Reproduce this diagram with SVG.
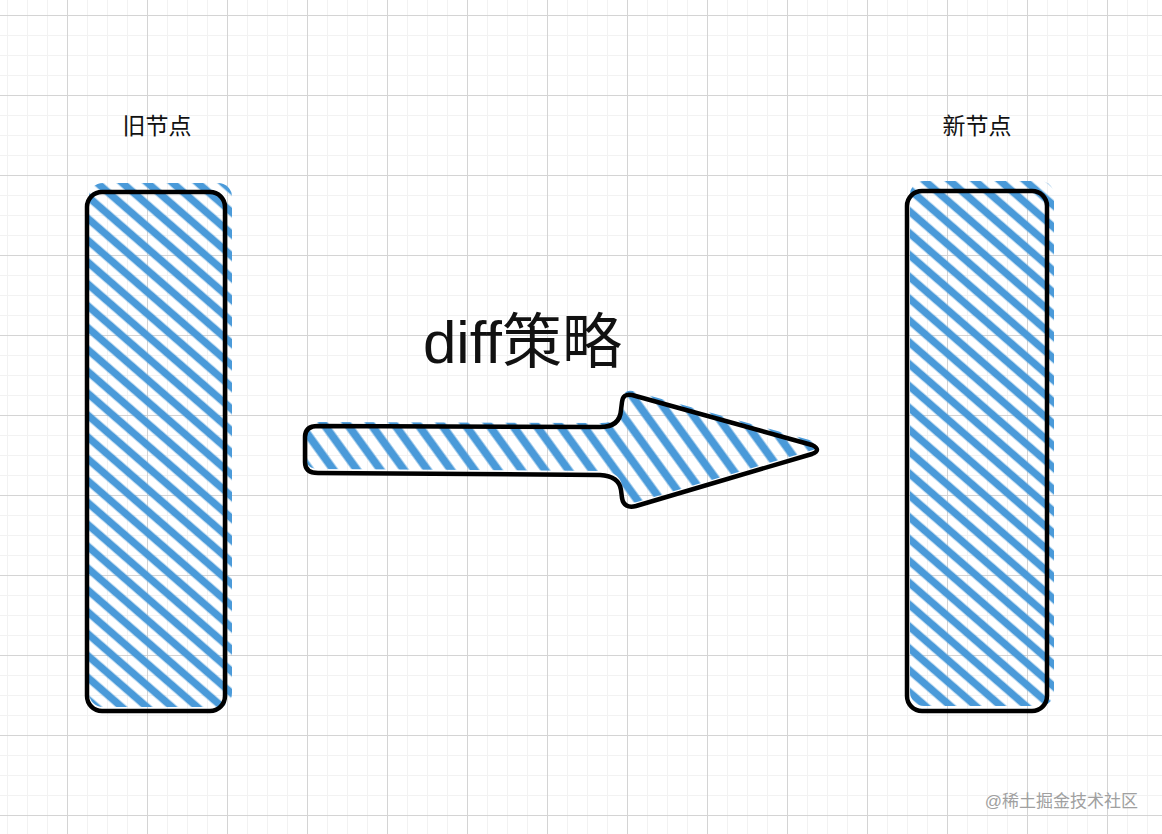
<svg xmlns="http://www.w3.org/2000/svg" width="1162" height="834" viewBox="0 0 1162 834">
<style>
.label{font-family:"Liberation Sans","Noto Sans CJK SC",sans-serif;fill:#111;}
.outline{fill:none;stroke:#000;stroke-width:4.5;stroke-linejoin:round;stroke-linecap:round;}
</style>
<defs>
<pattern id="gridMinor" patternUnits="userSpaceOnUse" x="7" y="15" width="20" height="20">
<path d="M0 0.5H20M0.5 0V20" stroke="#f2f2f2" stroke-width="1" fill="none"/>
</pattern>
<pattern id="gridMajor" patternUnits="userSpaceOnUse" x="67" y="15" width="80" height="80">
<path d="M0 0.5H80M0.5 0V80" stroke="#d4d4d4" stroke-width="1" fill="none"/>
</pattern>
<pattern id="hatchRect" patternUnits="userSpaceOnUse" width="16.5" height="40" patternTransform="rotate(-49)">
<line x1="8.25" y1="0" x2="8.25" y2="40" stroke="#4a9ad9" stroke-width="7.5"/>
</pattern>
<pattern id="hatchArrow" patternUnits="userSpaceOnUse" width="19" height="40" patternTransform="rotate(-36)">
<line x1="9.5" y1="0" x2="9.5" y2="40" stroke="#4a9ad9" stroke-width="8"/>
</pattern>
</defs>
<rect width="1162" height="834" fill="#ffffff"/>
<rect width="1162" height="834" fill="url(#gridMinor)"/>
<rect width="1162" height="834" fill="url(#gridMajor)"/>

<g id="old-node">
<rect x="89" y="183" width="143" height="524" rx="14" fill="url(#hatchRect)"/>
<rect class="outline" x="87" y="192" width="138" height="519" rx="15"/>
<text class="label" x="157" y="134" font-size="23" text-anchor="middle">旧节点</text>
</g>

<g id="new-node">
<rect x="910" y="181" width="144" height="525" rx="14" fill="url(#hatchRect)"/>
<rect class="outline" x="907" y="191" width="140" height="520" rx="15"/>
<text class="label" x="977" y="134" font-size="23" text-anchor="middle">新节点</text>
</g>

<g id="connectors">
<g id="diff-arrow">
<path transform="translate(1,-4)" fill="url(#hatchArrow)" d="M318 426L600 427Q620 427 621 410L622 402Q623 393 632 395L812 445Q822 450 812 454L636 506Q624 509 622 498L621 490Q619 476 600 475L318 473Q305 473 305 462L305 437Q305 426 318 426Z"/>
<path class="outline" d="M318 426L600 427Q620 427 621 410L622 402Q623 393 632 395L812 445Q822 450 812 454L636 506Q624 509 622 498L621 490Q619 476 600 475L318 473Q305 473 305 462L305 437Q305 426 318 426Z"/>
</g>
<text class="label" x="423" y="363" font-size="60">diff策略</text>
</g>

<text x="1138" y="807" font-size="17" text-anchor="end" fill="#a0a0a0" font-family="'Liberation Sans','Noto Sans CJK SC',sans-serif">@稀土掘金技术社区</text>
</svg>
